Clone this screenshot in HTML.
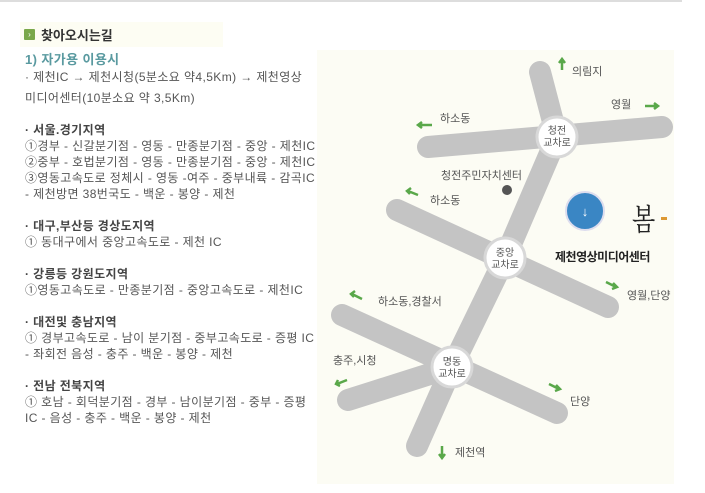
<!DOCTYPE html>
<html><head><meta charset="utf-8"><style>
body{margin:0;width:705px;height:493px;background:#fff;position:relative;overflow:hidden;font-family:"Liberation Sans","Noto Sans CJK KR","NanumGothic",sans-serif;}
.t{position:absolute;left:25px;font-size:12px;color:#555;white-space:nowrap;line-height:16px;letter-spacing:0.4px;z-index:2}
.b{font-weight:bold;color:#444}
</style></head><body>
<div style="position:absolute;left:0;top:0;width:682px;height:2px;background:#ddd"></div>
<div style="position:absolute;left:20px;top:22px;width:203px;height:25px;background:#fdfdf3"></div>
<div style="position:absolute;left:24px;top:29px;width:11px;height:11px;background:#7aa84a;border-radius:1px;color:#fff;font-size:8px;line-height:11px;text-align:center">›</div>
<div style="position:absolute;left:41px;top:25px;font-size:13px;font-weight:bold;color:#333">찾아오시는길</div>
<div class="t" style="top:52px;font-size:13px;font-weight:bold;color:#5a9aa0">1) 자가용 이용시</div>
<div class="t" style="top:69px">· 제천IC → 제천시청(5분소요 약4,5Km) → 제천영상</div>
<div class="t" style="top:90px">미디어센터(10분소요 약 3,5Km)</div>
<div class="t b" style="top:122px">· 서울.경기지역</div>
<div class="t" style="top:138px">①경부 - 신갈분기점 - 영동 - 만종분기점 - 중앙 - 제천IC</div>
<div class="t" style="top:154px">②중부 - 호법분기점 - 영동 - 만종분기점 - 중앙 - 제천IC</div>
<div class="t" style="top:170px">③영동고속도로 정체시 - 영동 -여주 - 중부내륙 - 감곡IC</div>
<div class="t" style="top:186px">- 제천방면 38번국도 - 백운 - 봉양 - 제천</div>
<div class="t b" style="top:218px">· 대구,부산등 경상도지역</div>
<div class="t" style="top:234px">① 동대구에서 중앙고속도로 - 제천 IC</div>
<div class="t b" style="top:266px">· 강릉등 강원도지역</div>
<div class="t" style="top:282px">①영동고속도로 - 만종분기점 - 중앙고속도로 - 제천IC</div>
<div class="t b" style="top:314px">· 대전및 충남지역</div>
<div class="t" style="top:330px">① 경부고속도로 - 남이 분기점 - 중부고속도로 - 증평 IC</div>
<div class="t" style="top:346px">- 좌회전 음성 - 충주 - 백운 - 봉양 - 제천</div>
<div class="t b" style="top:378px">· 전남 전북지역</div>
<div class="t" style="top:394px">① 호남 - 회덕분기점 - 경부 - 남이분기점 - 중부 - 증평</div>
<div class="t" style="top:410px">IC - 음성 - 충주 - 백운 - 봉양 - 제천</div>

<svg style="position:absolute;left:0;top:0;z-index:1" width="705" height="493" font-family="Liberation Sans, Noto Sans CJK KR, sans-serif">
<rect x="317" y="50" width="357" height="434" fill="#fcfcf4"/>
<g stroke="#c4c4c4" stroke-width="22" stroke-linecap="round" fill="none">
<path d="M540 72 L557 137 L505 258 L452 367 L417 446"/>
<path d="M428 147 L662 127"/>
<path d="M397 210 L608 307"/>
<path d="M342 315 L557 413"/>
<path d="M348 400 L452 367"/>
</g>
<g fill="#fff" stroke="#d8d8d8" stroke-width="3">
<circle cx="557" cy="137" r="20"/><circle cx="505" cy="258" r="20"/><circle cx="452" cy="367" r="20"/>
</g>
<g font-size="10" fill="#555" text-anchor="middle">
<text x="557" y="134">청전</text><text x="557" y="146">교차로</text>
<text x="505" y="256">중앙</text><text x="505" y="268">교차로</text>
<text x="452" y="365">명동</text><text x="452" y="377">교차로</text>
</g>
<g font-size="11" fill="#555">
<text x="572" y="75">의림지</text>
<text x="611" y="108">영월</text>
<text x="440" y="122">하소동</text>
<text x="441" y="179">청전주민자치센터</text>
<text x="430" y="204">하소동</text>
<text x="378" y="305">하소동,경찰서</text>
<text x="333" y="364">충주,시청</text>
<text x="627" y="299">영월,단양</text>
<text x="570" y="405">단양</text>
<text x="455" y="456">제천역</text>
</g>
<circle cx="585" cy="211" r="19" fill="#3a86c4" stroke="#dde" stroke-width="2"/>
<text x="585" y="216" font-size="13" fill="#fff" text-anchor="middle" font-weight="bold">↓</text>
<circle cx="507" cy="190" r="5" fill="#555"/>
<text x="632" y="230" font-size="30" fill="#222" font-family="Noto Serif CJK SC, serif" transform="translate(632 0) scale(0.8 1) translate(-632 0)">봄</text>
<rect x="661" y="217" width="6" height="3" fill="#d93"/>
<text x="555" y="261" font-size="12" font-weight="bold" fill="#222" letter-spacing="-0.5">제천영상미디어센터</text>
<g stroke="#5aa84a" stroke-width="2.5" fill="none">
<path d="M562 70 V60 M559 63 L562 59 L565 63"/>
<path d="M645 106 H657 M654 103 L658 106 L654 109"/>
<path d="M432 125 H419 M422 122 L418 125 L422 128"/>
<path d="M418 195 L408 191 M411 188 L407 191 L410 194"/>
<path d="M362 299 L352 294 M355 291 L351 294 L354 297"/>
<path d="M347 380 L337 384 M338 380 L336 384 L340 386"/>
<path d="M606 282 L616 287 M613 283 L617 287 L612 289"/>
<path d="M549 384 L559 389 M556 385 L560 389 L555 391"/>
<path d="M442 446 V457 M439 454 L442 458 L445 454"/>
</g>
</svg>
</body></html>
